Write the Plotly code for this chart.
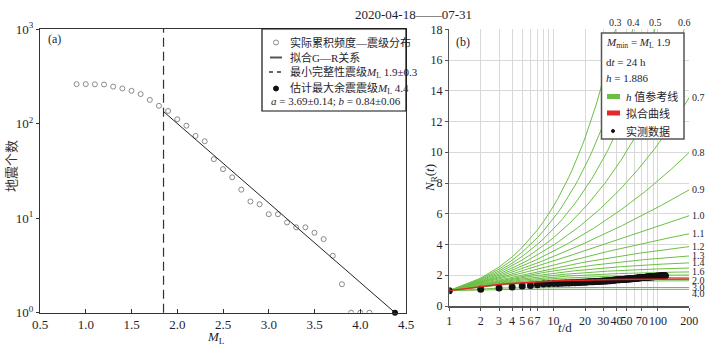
import numpy as np
import plotly.graph_objects as go

W, H = 712, 349
FONT = "Liberation Serif, Times New Roman, Noto Sans CJK SC, serif"
TXT = "#1e1e2e"

# ---------------- panel (a) data ----------------
mag = [0.9, 1.0, 1.1, 1.2, 1.3, 1.4, 1.5, 1.6, 1.7, 1.8, 1.9, 2.0, 2.1, 2.2, 2.3, 2.4,
       2.5, 2.6, 2.7, 2.8, 2.9, 3.0, 3.1, 3.2, 3.3, 3.4, 3.5, 3.6, 3.7, 3.8, 3.9, 4.0, 4.1]
cum_count = [261, 261, 260, 259, 246, 235, 222, 205, 178, 154, 136, 111, 95, 74, 65, 42,
             33, 27, 20, 15, 14, 11, 11, 9, 8, 8, 7, 6, 4, 2, 1, 1, 1]
mc_value = 1.85
fit_mag = [1.85, 4.38]
fit_count = [134, 1]
mmax_mag = [4.38]
mmax_count = [1]
x_ticks_a = [0.5, 1.0, 1.5, 2.0, 2.5, 3.0, 3.5, 4.0, 4.5]
y_ticks_a = [1, 10, 100, 1000]
y_ticktext_a = ["10<sup>0</sup>", "10<sup>1</sup>", "10<sup>2</sup>", "10<sup>3</sup>"]

# ---------------- panel (b) data ----------------
h_ref = [0.3, 0.4, 0.5, 0.6, 0.7, 0.8, 0.9, 1.0, 1.1, 1.2, 1.3, 1.4, 1.5, 1.6, 1.7, 1.8,
         1.9, 2.0, 3.0, 4.0]
h_top_labels = [0.3, 0.4, 0.5, 0.6]
h_right_labels = [0.7, 0.8, 0.9, 1.0, 1.1, 1.2, 1.3, 1.4, 1.6, 2.0, 3.0, 4.0]
h_fit = 1.886
days = list(range(1, 201))
obs_days = list(range(1, 119))
obs_nr = [1.00, 1.09, 1.17, 1.24, 1.30, 1.33, 1.39, 1.43, 1.44, 1.46,
          1.47, 1.48, 1.49, 1.50, 1.51, 1.52, 1.53, 1.53, 1.54, 1.55,
          1.56, 1.57, 1.57, 1.58, 1.59, 1.59, 1.60, 1.61, 1.61, 1.62,
          1.63, 1.63, 1.64, 1.65, 1.65, 1.66, 1.67, 1.68, 1.69, 1.70,
          1.70, 1.71, 1.71, 1.72, 1.72, 1.73, 1.73, 1.74, 1.74, 1.75,
          1.75, 1.76, 1.76, 1.77, 1.77, 1.78, 1.78, 1.79, 1.79, 1.80,
          1.80, 1.81, 1.81, 1.82, 1.82, 1.83, 1.83, 1.84, 1.84, 1.85,
          1.85, 1.85, 1.86, 1.86, 1.86, 1.87, 1.87, 1.87, 1.88, 1.88,
          1.88, 1.89, 1.89, 1.89, 1.90, 1.90, 1.90, 1.91, 1.91, 1.91,
          1.91, 1.92, 1.92, 1.92, 1.92, 1.93, 1.93, 1.93, 1.93, 1.93,
          1.94, 1.94, 1.94, 1.94, 1.95, 1.95, 1.95, 1.95, 1.95, 1.96,
          1.96, 1.96, 1.96, 1.96, 1.97, 1.97, 1.97, 1.97]
x_ticks_b = [1, 2, 3, 4, 5, 6, 7, 10, 20, 30, 40, 50, 70, 100, 200]
x_minor_b = [8, 9, 60, 80, 90]

GREEN = "#6cbf45"
RED = "#e8262a"
GRID = "#d9d9d9"


def ref_curve(h):
    t = np.array(days, dtype=float)
    return np.cumsum(t ** (-h))


def px(x):
    return x / W


def py(y):
    return 1 - y / H


def note(text, x, y, size=11, xanchor="left", color=TXT, **kw):
    return dict(text=text, x=px(x), y=py(y), xref="paper", yref="paper",
                xanchor=xanchor, yanchor="middle", showarrow=False,
                font=dict(size=size, color=color), **kw)


fig = go.Figure()

# ---- panel (a) traces
fig.add_trace(go.Scatter(x=mag, y=cum_count, mode="markers", xaxis="x", yaxis="y",
                         marker=dict(symbol="circle-open", size=5, color="#8a8a8a",
                                     line=dict(width=1, color="#8a8a8a")),
                         showlegend=False))
fig.add_trace(go.Scatter(x=fit_mag, y=fit_count, mode="lines", xaxis="x", yaxis="y",
                         line=dict(color="#222", width=1), showlegend=False))
fig.add_trace(go.Scatter(x=mmax_mag, y=mmax_count, mode="markers", xaxis="x", yaxis="y",
                         marker=dict(size=6, color="#111"), cliponaxis=False,
                         showlegend=False))

# ---- panel (b) traces
for h in h_ref:
    fig.add_trace(go.Scatter(x=days, y=ref_curve(h), mode="lines", xaxis="x2", yaxis="y2",
                             line=dict(color=GREEN, width=1), showlegend=False))
fig.add_trace(go.Scatter(x=obs_days, y=obs_nr, mode="markers", xaxis="x2", yaxis="y2",
                         marker=dict(size=7, color="#111"), showlegend=False))
fig.add_trace(go.Scatter(x=days, y=ref_curve(h_fit), mode="lines", xaxis="x2", yaxis="y2",
                         line=dict(color=RED, width=1.5), showlegend=False))

shapes = []
# Mc dashed line
shapes.append(dict(type="line", xref="x", yref="y domain", x0=mc_value, x1=mc_value,
                   y0=0, y1=1, line=dict(color="#333", width=1.2, dash="9px,5px")))

annotations = []

# ---- legend (a) (manual)
lx0, lx1, ly0, ly1 = 262, 406, 29, 111
shapes.append(dict(type="rect", xref="paper", yref="paper", x0=px(lx0), x1=px(lx1),
                   y0=py(ly1), y1=py(ly0), line=dict(color="#111", width=1.2),
                   fillcolor="white", layer="above"))
rows_a = [42.5, 57.5, 72, 88.5, 101.5]
shapes.append(dict(type="circle", xref="paper", yref="paper", x0=px(273.5), x1=px(278.5),
                   y0=py(rows_a[0] + 2.5), y1=py(rows_a[0] - 2.5),
                   line=dict(color="#8a8a8a", width=1), layer="above"))
shapes.append(dict(type="line", xref="paper", yref="paper", x0=px(270), x1=px(282),
                   y0=py(rows_a[1]), y1=py(rows_a[1]), line=dict(color="#555", width=2),
                   layer="above"))
shapes.append(dict(type="line", xref="paper", yref="paper", x0=px(269), x1=px(283),
                   y0=py(rows_a[2]), y1=py(rows_a[2]),
                   line=dict(color="#333", width=1.5, dash="4px,4px"), layer="above"))
shapes.append(dict(type="circle", xref="paper", yref="paper", x0=px(273.5), x1=px(278.5),
                   y0=py(rows_a[3] + 2.5), y1=py(rows_a[3] - 2.5),
                   line=dict(color="#111", width=1), fillcolor="#111", layer="above"))
texts_a = ["实际累积频度—震级分布", "拟合G—R关系",
           "最小完整性震级<i>M</i><sub>L</sub> 1.9±0.3",
           "估计最大余震震级<i>M</i><sub>L</sub> 4.4"]
for t, yy in zip(texts_a, rows_a[:4]):
    annotations.append(note(t, 288, yy))
annotations.append(note("<i>a</i> = 3.69±0.14; <i>b</i> = 0.84±0.06", 269, rows_a[4]))

# ---- legend (b) (manual)
bx0, bx1, by0, by1 = 601.5, 684, 33, 139
shapes.append(dict(type="rect", xref="paper", yref="paper", x0=px(bx0), x1=px(bx1),
                   y0=py(by1), y1=py(by0), line=dict(color="#555", width=1.5),
                   fillcolor="white", layer="above"))
rows_b = [43, 62, 78, 96.5, 113, 131]
texts_b1 = ["<i>M</i><sub>min</sub> = <i>M</i><sub>L</sub> 1.9", "d<i>t</i> = 24 h",
            "<i>h</i> = 1.886"]
for t, yy in zip(texts_b1, rows_b[:3]):
    annotations.append(note(t, 603.5, yy))
shapes.append(dict(type="rect", xref="paper", yref="paper", x0=px(607), x1=px(620),
                   y0=py(rows_b[3] + 2.5), y1=py(rows_b[3] - 2.5),
                   line=dict(width=0), fillcolor=GREEN, layer="above"))
shapes.append(dict(type="rect", xref="paper", yref="paper", x0=px(607), x1=px(620),
                   y0=py(rows_b[4] + 2.5), y1=py(rows_b[4] - 2.5),
                   line=dict(width=0), fillcolor=RED, layer="above"))
shapes.append(dict(type="circle", xref="paper", yref="paper", x0=px(611.5), x1=px(614.5),
                   y0=py(rows_b[5] + 1.5), y1=py(rows_b[5] - 1.5),
                   line=dict(color="#111", width=1), fillcolor="#111", layer="above"))
texts_b2 = ["<i>h</i> 值参考线", "拟合曲线", "实测数据"]
for t, yy in zip(texts_b2, rows_b[3:]):
    annotations.append(note(t, 624, yy))

# ---- h labels (b)
for h in h_top_labels:
    c = ref_curve(h)
    idx = int(np.argmax(c >= 18))
    t0, t1 = days[idx - 1], days[idx]
    f = (18 - c[idx - 1]) / (c[idx] - c[idx - 1])
    tc = 10 ** (np.log10(t0) + f * (np.log10(t1) - np.log10(t0)))
    annotations.append(dict(text=f"{h:.1f}", x=np.log10(tc), y=18, xref="x2", yref="y2",
                            xanchor="center", yanchor="bottom", yshift=-1, showarrow=False,
                            font=dict(size=10, color=TXT)))
for h in h_right_labels:
    c = ref_curve(h)
    shift = -4 if h == 4.0 else 0
    annotations.append(dict(text=f"{h:.1f}", x=np.log10(days[-1]), y=float(c[-1]),
                            xref="x2", yref="y2", xanchor="left", yanchor="middle",
                            xshift=1, yshift=shift, showarrow=False,
                            font=dict(size=10, color=TXT)))

# ---- panel titles / axis titles
annotations += [
    note("2020-04-18——07-31", 413, 14, size=13, xanchor="center"),
    note("(a)", 46, 39, size=12),
    note("(b)", 454, 42.5, size=12),
    note("<i>M</i><sub>L</sub>", 216, 337, size=13, xanchor="center"),
    note("地震个数", 12, 166, size=13, xanchor="center", color="#333", textangle=-90),
    note("<i>N</i><sub>R</sub>(<i>t</i>)", 430, 178, size=13, xanchor="center",
         textangle=-90),
    note("<i>t</i>/d", 565, 327, size=13, xanchor="center"),
]

axis_common = dict(showgrid=False, zeroline=False, automargin=False, tickangle=0,
                   tickfont=dict(size=13, color=TXT))

fig.update_layout(
    template="none",
    width=W, height=H, margin=dict(l=0, r=0, t=0, b=0, autoexpand=False),
    paper_bgcolor="white", plot_bgcolor="white",
    font=dict(family=FONT, color=TXT),
    showlegend=False,
    xaxis=dict(domain=[px(40), px(406)], range=[0.5, 4.5], tickvals=x_ticks_a,
               ticktext=[f"{v:.1f}" for v in x_ticks_a], ticks="inside", ticklen=4,
               tickcolor="#333", showline=True, linecolor="#333", linewidth=1, mirror=True,
               anchor="y", **axis_common),
    yaxis=dict(domain=[py(312.7), py(29)], type="log", range=[0, 3], tickvals=y_ticks_a,
               ticktext=y_ticktext_a, ticks="outside", ticklen=3, tickcolor="#333",
               showline=True, linecolor="#333", linewidth=1, mirror=True, anchor="x",
               **axis_common),
    xaxis2=dict(domain=[px(449.3), px(689.3)], type="log", range=[0, np.log10(200)],
                tickvals=x_ticks_b, ticktext=[str(v) for v in x_ticks_b], ticks="outside",
                ticklen=3, tickangle=0, tickcolor="#555", showline=True, linecolor="#555",
                linewidth=1.5, showgrid=True, gridcolor=GRID, gridwidth=1, zeroline=False,
                minor=dict(tickvals=x_minor_b, showgrid=True, gridcolor=GRID, gridwidth=1,
                           ticks=""),
                automargin=False, tickfont=dict(size=12, color=TXT), anchor="y2"),
    yaxis2=dict(domain=[py(306), py(29.3)], range=[0, 18], tickvals=list(range(0, 19, 2)),
                ticks="outside", ticklen=3, tickcolor="#555", showline=True,
                linecolor="#555", linewidth=1.5, showgrid=True, gridcolor=GRID,
                gridwidth=1, zeroline=False, automargin=False,
                tickfont=dict(size=12, color=TXT), anchor="x2"),
    shapes=shapes,
    annotations=annotations,
)

fig.write_html(
    "out.html",
    config={"displayModeBar": False, "staticPlot": True},
    post_script="document.body.style.margin='0';document.body.style.overflow='hidden';",
)
